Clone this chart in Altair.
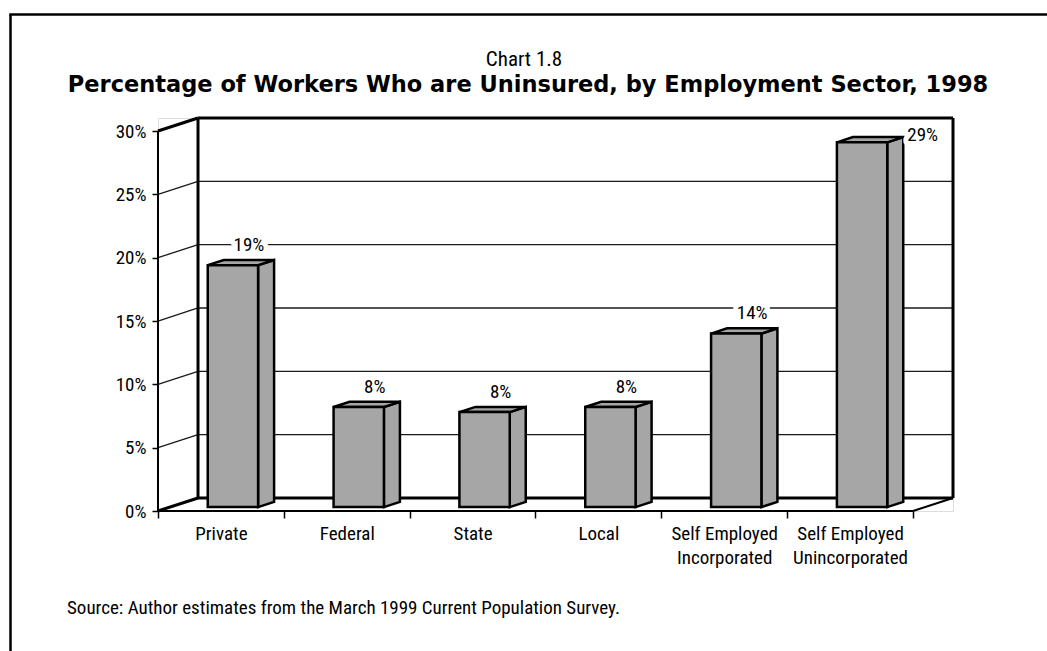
import json
import altair as alt
import pandas as pd

# ---------------- data ----------------
categories = ["Private", "Federal", "State", "Local",
              "Self Employed Incorporated", "Self Employed Unincorporated"]
category_lines = [["Private"], ["Federal"], ["State"], ["Local"],
                  ["Self Employed", "Incorporated"], ["Self Employed", "Unincorporated"]]
uninsured_pct = [19.1, 7.9, 7.5, 7.9, 13.7, 28.8]
value_labels = ["19%", "8%", "8%", "8%", "14%", "29%"]
y_tick_values = [0, 5, 10, 15, 20, 25, 30]

title_line1 = "Chart 1.8"
title_line2 = "Percentage of Workers Who are Uninsured, by Employment Sector, 1998"
source_note = "Source: Author estimates from the March 1999 Current Population Survey."

# ---------------- 3-D oblique projection (in data units) ----------------
N = len(categories)
Y_TOP = 30
DX = 0.318      # depth of the box, in category units
DY = 1.03       # depth rise, in percentage points
X_MAX = N + DX
Y_MAX = Y_TOP + DY
BAR_W = 0.4
Z0, Z1 = 0.3, 0.7   # front / back depth of the bars

NARROW = "Liberation Sans Narrow, Roboto Condensed, DejaVu Sans Condensed, sans-serif"
BOLD = "DejaVu Sans, Liberation Sans, sans-serif"
GREY = "#a6a6a6"
FS = 19

xs = alt.Scale(domain=[0, X_MAX], nice=False, zero=False)
ys = alt.Scale(domain=[0, Y_MAX], nice=False, zero=False)

x_axis = alt.Axis(
    values=[k / 2 for k in range(2 * N + 1)], title=None, domain=False, grid=False,
    tickSize=7, tickWidth=1.5, tickColor="black",
    tickOpacity={"condition": {"test": "datum.value % 1 === 0", "value": 1}, "value": 0},
    labelExpr=f"datum.value % 1 === 0 ? '' : {json.dumps(category_lines)}[floor(datum.value)]",
    labelFont=NARROW, labelFontSize=FS, labelColor="black", labelPadding=6,
    labelLineHeight=24, labelOverlap=False, labelFlush=False, labelBound=False,
)
y_axis = alt.Axis(
    values=y_tick_values, title=None, domain=False, grid=False,
    tickSize=6, tickWidth=1.5, tickColor="black",
    labelExpr="datum.value + '%'", labelFont=NARROW, labelFontSize=FS,
    labelColor="black", labelPadding=6,
)


def X(f):
    return alt.X(f, type="quantitative", scale=xs, axis=x_axis)


def Y(f):
    return alt.Y(f, type="quantitative", scale=ys, axis=y_axis)


def rules(segs, width, color="black"):
    df = pd.DataFrame(segs, columns=["x", "y", "x2", "y2"])
    return alt.Chart(df).mark_rule(color=color, strokeWidth=width).encode(
        x=X("x"), x2="x2", y=Y("y"), y2="y2")


# gridlines: back wall + left side wall
grid_segs = []
for t in y_tick_values[1:-1]:
    grid_segs.append((DX, t + DY, X_MAX, t + DY))
    grid_segs.append((0, t, DX, t + DY))
grid = rules(grid_segs, 1.3, "#1a1a1a")

wall_segs = [
    (DX, DY, DX, Y_MAX), (DX, Y_MAX, X_MAX, Y_MAX), (X_MAX, DY, X_MAX, Y_MAX),
    (DX, DY, X_MAX, DY), (0, Y_TOP, DX, Y_MAX), (0, 0, DX, DY),
]
walls = rules(wall_segs, 3)
front_segs = [(0, 0, 0, Y_TOP), (0, 0, N, 0), (N, 0, X_MAX, DY)]
front = rules(front_segs, 2)

# bars
front_rows, side_rows, top_rows, label_rows = [], [], [], []
for i, (c, v, lab) in enumerate(zip(categories, uninsured_pct, value_labels)):
    xl = i + 0.5 - BAR_W / 2
    xr = i + 0.5 + BAR_W / 2
    front_rows.append({"cat": c, "x": xl + Z0 * DX, "x2": xr + Z0 * DX,
                       "y": Z0 * DY, "y2": v + Z0 * DY})
    side_rows += [
        {"cat": c, "x": xr + Z0 * DX, "y": v + Z0 * DY, "y2": Z0 * DY},
        {"cat": c, "x": xr + Z1 * DX, "y": v + Z1 * DY, "y2": Z1 * DY},
    ]
    top_rows += [
        {"cat": c, "x": xl + Z0 * DX, "y": v + Z0 * DY, "y2": v + Z0 * DY},
        {"cat": c, "x": xl + Z1 * DX, "y": v + Z1 * DY, "y2": v + Z0 * DY},
        {"cat": c, "x": xr + Z0 * DX, "y": v + Z1 * DY, "y2": v + Z0 * DY},
        {"cat": c, "x": xr + Z1 * DX, "y": v + Z1 * DY, "y2": v + Z1 * DY},
    ]
    overflow = v + Z1 * DY + 2.2 > Y_MAX
    label_rows.append({
        "cat": c, "text": lab, "side": overflow,
        "x": (xr + Z1 * DX) if overflow else (i + 0.5 + Z1 * DX),
        "y": v + Z1 * DY,
    })

bar_style = dict(fill=GREY, stroke="black", strokeWidth=2.5, strokeJoin="miter")
side = alt.Chart(pd.DataFrame(side_rows)).mark_area(orient="vertical", **bar_style).encode(
    x=X("x"), y=Y("y"), y2="y2", detail="cat:N")
top = alt.Chart(pd.DataFrame(top_rows)).mark_area(orient="vertical", **bar_style).encode(
    x=X("x"), y=Y("y"), y2="y2", detail="cat:N")
face = alt.Chart(pd.DataFrame(front_rows)).mark_rect(**bar_style).encode(
    x=X("x"), x2="x2", y=Y("y"), y2="y2")

labels_df = pd.DataFrame(label_rows)
text_style = dict(font=NARROW, fontSize=FS, color="black")


def label_layer(halo, overflow):
    base = alt.Chart(labels_df).transform_filter(
        "datum.side" if overflow else "!datum.side")
    if overflow:
        kw = dict(align="left", baseline="middle", dx=4, dy=-2)
    else:
        kw = dict(align="center", baseline="alphabetic", dy=-9)
    if halo:
        m = base.mark_text(stroke="white", strokeWidth=10, strokeJoin="round",
                           font=NARROW, fontSize=FS, fill="white", **kw)
    else:
        m = base.mark_text(**text_style, **kw)
    return m.encode(x=X("x"), y=Y("y"), text="text:N")


labels = [label_layer(True, False), label_layer(True, True),
          label_layer(False, False), label_layer(False, True)]

# page texts (positions in pixels relative to the plot origin at 158, 118)
note = alt.Chart(pd.DataFrame({"t": [source_note]})).mark_text(
    align="left", baseline="middle", **text_style).encode(
    x=alt.value(-91), y=alt.value(490), text="t:N")
head1 = alt.Chart(pd.DataFrame({"t": [title_line1]})).mark_text(
    align="center", baseline="alphabetic", font=NARROW, fontSize=21, color="black").encode(
    x=alt.value(524 - 158), y=alt.value(66 - 118), text="t:N")
head2 = alt.Chart(pd.DataFrame({"t": [title_line2]})).mark_text(
    align="center", baseline="alphabetic", font=BOLD, fontSize=22.5, fontWeight="bold",
    color="black").encode(
    x=alt.value(528 - 158), y=alt.value(92 - 118), text="t:N")

frame_df = pd.DataFrame({"k": [0]})
frame_left = alt.Chart(frame_df).mark_rule(color="black", strokeWidth=2.5).encode(
    x=alt.value(-147.5), y=alt.value(-103.5), y2=alt.value(560))
frame_top = alt.Chart(frame_df).mark_rule(color="black", strokeWidth=2.5).encode(
    x=alt.value(-148.7), x2=alt.value(920), y=alt.value(-103.5))

chart = alt.layer(
    grid, walls, front, side, top, face, *labels, note, head1, head2, frame_left, frame_top
).properties(
    width=795, height=393,
    autosize=alt.AutoSizeParams(type="none"),
    padding={"left": 158, "top": 118, "right": 94, "bottom": 140},
).configure_view(stroke=None).configure(background="white")

chart.save("out.html", embed_options={"renderer": "svg", "actions": False})
